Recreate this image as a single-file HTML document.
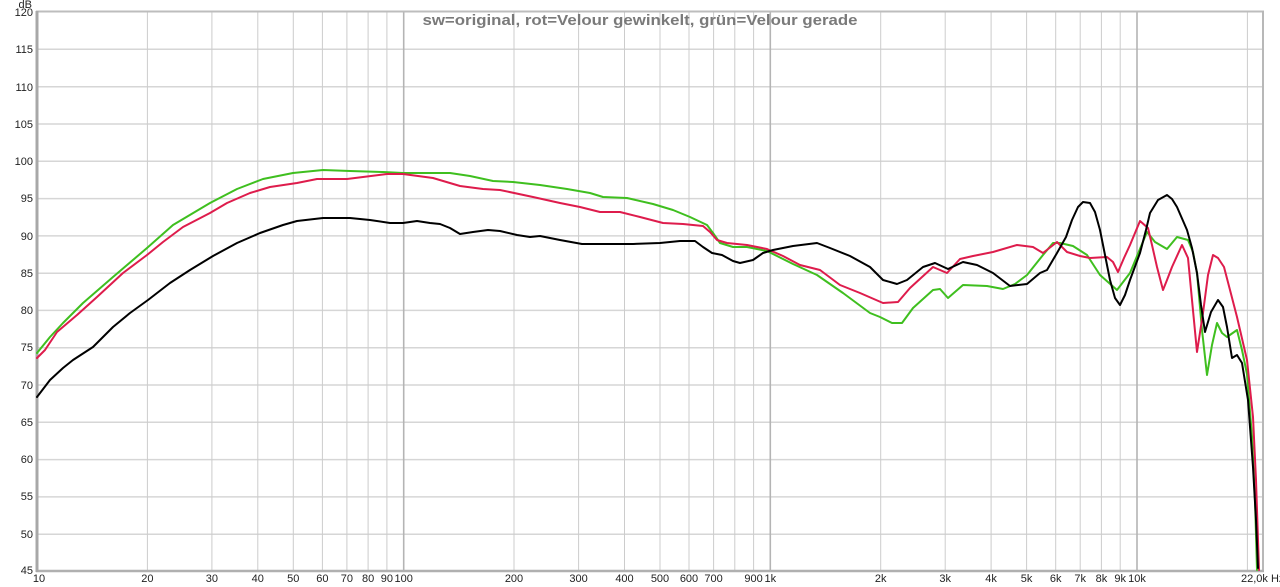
<!DOCTYPE html>
<html><head><meta charset="utf-8"><style>
html,body{margin:0;padding:0;background:#fff;}
svg{display:block;}
text{font-family:"Liberation Sans",Arial,sans-serif;}
</style></head><body>
<svg width="1280" height="587" viewBox="0 0 1280 587" xmlns="http://www.w3.org/2000/svg">
<rect x="0" y="0" width="1280" height="587" fill="#fff"/>
<!-- horizontal grid -->
<g stroke="#d6d6d6" stroke-width="1.5">
<line x1="37" y1="49.3" x2="1263" y2="49.3"/>
<line x1="37" y1="86.7" x2="1263" y2="86.7"/>
<line x1="37" y1="124" x2="1263" y2="124"/>
<line x1="37" y1="161.3" x2="1263" y2="161.3"/>
<line x1="37" y1="198.6" x2="1263" y2="198.6"/>
<line x1="37" y1="235.9" x2="1263" y2="235.9"/>
<line x1="37" y1="273.2" x2="1263" y2="273.2"/>
<line x1="37" y1="310.4" x2="1263" y2="310.4"/>
<line x1="37" y1="347.7" x2="1263" y2="347.7"/>
<line x1="37" y1="385" x2="1263" y2="385"/>
<line x1="37" y1="422.3" x2="1263" y2="422.3"/>
<line x1="37" y1="459.6" x2="1263" y2="459.6"/>
<line x1="37" y1="496.9" x2="1263" y2="496.9"/>
<line x1="37" y1="534.2" x2="1263" y2="534.2"/>
</g>
<!-- vertical grid -->
<g stroke="#cccccc" stroke-width="1">
<line x1="147.4" y1="12" x2="147.4" y2="571"/>
<line x1="211.9" y1="12" x2="211.9" y2="571"/>
<line x1="257.8" y1="12" x2="257.8" y2="571"/>
<line x1="293.3" y1="12" x2="293.3" y2="571"/>
<line x1="322.4" y1="12" x2="322.4" y2="571"/>
<line x1="346.9" y1="12" x2="346.9" y2="571"/>
<line x1="368.1" y1="12" x2="368.1" y2="571"/>
<line x1="386.9" y1="12" x2="386.9" y2="571"/>
<line x1="514" y1="12" x2="514" y2="571"/>
<line x1="578.6" y1="12" x2="578.6" y2="571"/>
<line x1="624.5" y1="12" x2="624.5" y2="571"/>
<line x1="660" y1="12" x2="660" y2="571"/>
<line x1="689" y1="12" x2="689" y2="571"/>
<line x1="713.6" y1="12" x2="713.6" y2="571"/>
<line x1="734.8" y1="12" x2="734.8" y2="571"/>
<line x1="753.6" y1="12" x2="753.6" y2="571"/>
<line x1="880.7" y1="12" x2="880.7" y2="571"/>
<line x1="945.2" y1="12" x2="945.2" y2="571"/>
<line x1="991.1" y1="12" x2="991.1" y2="571"/>
<line x1="1026.6" y1="12" x2="1026.6" y2="571"/>
<line x1="1055.7" y1="12" x2="1055.7" y2="571"/>
<line x1="1080.2" y1="12" x2="1080.2" y2="571"/>
<line x1="1101.4" y1="12" x2="1101.4" y2="571"/>
<line x1="1120.2" y1="12" x2="1120.2" y2="571"/>
<line x1="1247.4" y1="12" x2="1247.4" y2="571"/>
</g>
<g stroke="#b4b4b4" stroke-width="1.6">
<line x1="403.7" y1="12" x2="403.7" y2="571"/>
<line x1="770.3" y1="12" x2="770.3" y2="571"/>
<line x1="1137" y1="12" x2="1137" y2="571"/>
</g>
<!-- frame -->
<line x1="36" y1="11.5" x2="1264" y2="11.5" stroke="#bdbdbd" stroke-width="2"/>
<line x1="1263" y1="11" x2="1263" y2="572" stroke="#b8b8b8" stroke-width="2"/>
<line x1="36" y1="571" x2="1264" y2="571" stroke="#b0b0b0" stroke-width="2.5"/>
<line x1="37" y1="11" x2="37" y2="572" stroke="#a8a8a8" stroke-width="3"/>

<!-- title -->
<text x="640" y="25" text-anchor="middle" font-size="14.5" font-weight="bold" fill="#7a7a7a" textLength="435" lengthAdjust="spacingAndGlyphs">sw=original, rot=Velour gewinkelt, grün=Velour gerade</text>

<!-- y labels -->
<g font-size="11" fill="#222" text-anchor="end">
<text x="32" y="8">dB</text>
<text x="33" y="16">120</text>
<text x="33" y="53">115</text>
<text x="33" y="91">110</text>
<text x="33" y="128">105</text>
<text x="33" y="165">100</text>
<text x="33" y="202">95</text>
<text x="33" y="240">90</text>
<text x="33" y="277">85</text>
<text x="33" y="314">80</text>
<text x="33" y="351">75</text>
<text x="33" y="389">70</text>
<text x="33" y="426">65</text>
<text x="33" y="463">60</text>
<text x="33" y="500">55</text>
<text x="33" y="538">50</text>
<text x="33" y="574">45</text>
</g>
<!-- x labels -->
<g font-size="11" fill="#222" text-anchor="middle">
<text x="39" y="582">10</text>
<text x="147.4" y="582">20</text>
<text x="211.9" y="582">30</text>
<text x="257.8" y="582">40</text>
<text x="293.3" y="582">50</text>
<text x="322.4" y="582">60</text>
<text x="346.9" y="582">70</text>
<text x="368.1" y="582">80</text>
<text x="386.9" y="582">90</text>
<text x="403.7" y="582">100</text>
<text x="514" y="582">200</text>
<text x="578.6" y="582">300</text>
<text x="624.5" y="582">400</text>
<text x="660" y="582">500</text>
<text x="689" y="582">600</text>
<text x="713.6" y="582">700</text>
<text x="753.6" y="582">900</text>
<text x="770.3" y="582">1k</text>
<text x="880.7" y="582">2k</text>
<text x="945.2" y="582">3k</text>
<text x="991.1" y="582">4k</text>
<text x="1026.6" y="582">5k</text>
<text x="1055.7" y="582">6k</text>
<text x="1080.2" y="582">7k</text>
<text x="1101.4" y="582">8k</text>
<text x="1120.2" y="582">9k</text>
<text x="1137" y="582">10k</text>
</g>
<text x="1241" y="582" font-size="11" fill="#222">22,0k Hz</text>

<!-- curves -->
<g fill="none" stroke-width="2" stroke-linejoin="round" stroke-linecap="round">
<polyline stroke="#3fbf1f" points="37,353 50,337 63,323 83,303 113,277 147,248 173,225 210,203 237,189 263,179 293,173 323,170 350,171 383,172 403,173 450,173 470,176 493,181 513,182 540,185 567,189 590,193 603,197 627,198 653,204 673,210 690,217 707,225 713,233 720,243 733,247 747,247 767,251 793,264 817,275 843,293 870,313 880,317 892,323 902,323 913,308 933,290 940,289 948,298 963,285 987,286 1003,289 1015,284 1027,275 1043,255 1053,243 1060,243 1073,246 1087,255 1100,275 1117,290 1130,273 1147,232 1155,242 1167,249 1177,237 1188,240 1193,252 1197,273 1202,330 1207,375 1212,345 1217,323 1222,333 1227,337 1237,330 1242,350 1247,374 1252,437 1255,500 1257,570"/>
<polyline stroke="#de1c4c" points="37,358 45,350 57,332 77,315 97,297 123,273 147,255 163,242 183,227 210,213 227,203 250,193 270,187 297,183 317,179 347,179 363,177 387,174 403,174 433,178 460,186 483,189 500,190 533,197 560,203 580,207 600,212 620,212 640,217 663,223 683,224 703,226 710,232 717,240 727,243 747,245 767,249 783,256 800,265 820,270 840,285 860,293 883,303 898,302 910,288 933,267 947,273 960,259 973,256 993,252 1017,245 1033,247 1043,253 1057,242 1067,252 1080,256 1090,258 1107,257 1113,262 1118,272 1124,258 1130,245 1140,221 1148,228 1152,245 1157,267 1163,290 1167,280 1172,267 1182,245 1188,258 1192,300 1197,352 1203,313 1208,275 1213,255 1218,258 1224,267 1230,290 1237,317 1247,360 1253,417 1256,480 1259,570"/>
<polyline stroke="#000000" points="37,397 50,380 63,368 73,360 93,347 113,327 130,313 148,300 170,283 190,270 213,256 237,243 260,233 283,225 297,221 323,218 350,218 370,220 390,223 403,223 417,221 430,223 440,224 450,228 460,234 473,232 488,230 500,231 517,235 530,237 540,236 560,240 582,244 600,244 633,244 660,243 680,241 695,241 703,247 712,253 722,255 733,261 740,263 753,260 763,253 773,250 793,246 817,243 830,248 850,256 870,267 883,280 897,284 907,280 923,267 935,263 948,269 963,262 977,265 993,273 1010,286 1027,284 1040,273 1047,270 1057,253 1066,237 1072,220 1078,207 1083,202 1090,203 1095,212 1100,230 1105,255 1110,280 1115,298 1120,305 1125,295 1130,280 1140,253 1146,230 1150,213 1158,200 1167,195 1172,199 1177,207 1187,230 1192,248 1197,273 1201,305 1205,332 1211,312 1218,300 1223,307 1227,327 1232,358 1237,355 1242,363 1248,400 1253,467 1256,520 1258,568"/>
</g>
</svg>
</body></html>
